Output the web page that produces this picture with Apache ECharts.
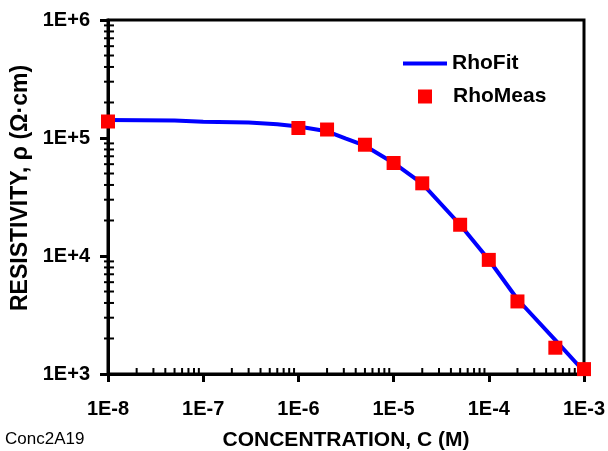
<!DOCTYPE html>
<html>
<head>
<meta charset="utf-8">
<script src="https://cdn.jsdelivr.net/npm/echarts@6/dist/echarts.min.js"></script>
<style>
  html, body { margin: 0; padding: 0; background: #fff; }
  #chart { width: 608px; height: 451px; }
</style>
</head>
<body>
<div id="chart"></div>
<script>
// fitted curve
const fitConc = [1e-8, 5e-8, 1e-7, 3e-7, 6e-7, 1e-6, 2e-6, 3.16e-6, 5e-6, 1e-5, 2e-5, 5e-5, 1e-4, 2e-4, 5e-4, 1e-3];
const fitRho = [1.42e5, 1.41e5, 1.37e5, 1.35e5, 1.31e5, 1.25e5, 1.14e5, 9.9e4, 8.6e4, 6.14e4, 4.1e4, 1.84e4, 9.3e3, 4.3e3, 1.94e3, 1.05e3];

// measured points
const measConc = [1e-8, 1e-6, 2e-6, 5e-6, 1e-5, 2e-5, 5e-5, 1e-4, 2e-4, 5e-4, 1e-3];
const measRho = [1.38e5, 1.216e5, 1.18e5, 8.77e4, 6.14e4, 4.13e4, 1.84e4, 9.27e3, 4.12e3, 1.67e3, 1.1e3];

// decades that get minor ticks, and the minor multipliers
const xDecades = [1e-8, 1e-7, 1e-6, 1e-5, 1e-4];
const yDecades = [1e3, 1e4, 1e5];
const minorSteps = [2, 3, 4, 5, 6, 7, 8, 9];

const font = "'Liberation Sans', Arial, sans-serif";

const xMinor = [];
xDecades.forEach(d => minorSteps.forEach(m => xMinor.push([d * m, 1e3])));
const yMinor = [];
yDecades.forEach(d => minorSteps.forEach(m => yMinor.push([1e-8, d * m])));

const expLabel = v => {
  const e = Math.round(Math.log10(v));
  return '1E' + (e < 0 ? '-' : '+') + Math.abs(e);
};

const chart = echarts.init(document.getElementById('chart'));

const tickStyle = { stroke: '#000', lineWidth: 2 };
const boldText = size => ({ fontFamily: font, fontSize: size, fontWeight: 'bold', color: '#000' });

chart.setOption({
  animation: false,
  textStyle: { fontFamily: font },
  grid: {
    left: 108, right: 24, top: 20, bottom: 77,
    outerBoundsMode: 'none',
    show: true, borderColor: '#000', borderWidth: 3
  },
  legend: [
    {
      data: [{ name: 'RhoFit', icon: 'rect' }],
      left: 398, top: 48,
      itemWidth: 44, itemHeight: 4,
      itemStyle: { color: '#0000FF' },
      textStyle: boldText(21)
    },
    {
      data: ['RhoMeas'],
      left: 413, top: 81,
      itemWidth: 14, itemHeight: 14,
      itemStyle: { color: '#FF0000', opacity: 1 },
      textStyle: Object.assign(boldText(21), { padding: [0, 0, 0, 16] })
    }
  ],
  xAxis: {
    type: 'log', logBase: 10, min: 1e-8, max: 1e-3,
    name: 'CONCENTRATION, C (M)',
    nameLocation: 'middle', nameGap: 56,
    nameTextStyle: boldText(21),
    axisLine: { lineStyle: { color: '#000', width: 3 } },
    axisTick: { inside: false, length: 8, lineStyle: { color: '#000', width: 3 } },
    axisLabel: Object.assign({ formatter: expLabel, margin: 25 }, boldText(20)),
    splitLine: { show: false },
    minorTick: { show: false }
  },
  yAxis: {
    type: 'log', logBase: 10, min: 1e3, max: 1e6,
    axisLine: { lineStyle: { color: '#000', width: 3 } },
    axisTick: { inside: false, length: 8, lineStyle: { color: '#000', width: 3 } },
    axisLabel: Object.assign({ formatter: expLabel, margin: 18 }, boldText(20)),
    splitLine: { show: false },
    minorTick: { show: false }
  },
  graphic: [
    {
      type: 'text', x: 21, y: 188, rotation: Math.PI / 2,
      style: {
        text: 'RESISTIVITY, ρ (Ω·cm)', font: 'bold 23px ' + font, fill: '#000',
        align: 'center', verticalAlign: 'middle'
      }
    },
    {
      type: 'text', left: 5, top: 431,
      style: { text: 'Conc2A19', font: '17px ' + font, fill: '#000' }
    }
  ],
  series: [
    {
      name: 'xticks', type: 'custom', clip: false, silent: true, z: 5,
      data: xMinor,
      renderItem: (params, api) => {
        const p = api.coord([api.value(0), api.value(1)]);
        return { type: 'line', shape: { x1: p[0], y1: p[1] + 1, x2: p[0], y2: p[1] - 6 }, style: tickStyle };
      }
    },
    {
      name: 'yticks', type: 'custom', clip: false, silent: true, z: 5,
      data: yMinor,
      renderItem: (params, api) => {
        const p = api.coord([api.value(0), api.value(1)]);
        return { type: 'line', shape: { x1: p[0] - 4, y1: p[1], x2: p[0] + 6, y2: p[1] }, style: tickStyle };
      }
    },
    {
      name: 'RhoFit', type: 'line',
      data: fitConc.map((c, i) => [c, fitRho[i]]),
      showSymbol: false, symbol: 'none', clip: false, z: 6,
      lineStyle: { color: '#0000FF', width: 4 },
      itemStyle: { color: '#0000FF' }
    },
    {
      name: 'RhoMeas', type: 'scatter',
      data: measConc.map((c, i) => [c, measRho[i]]),
      symbol: 'rect', symbolSize: 14, clip: false, z: 7,
      itemStyle: { color: '#FF0000', opacity: 1 }
    }
  ]
});
</script>
</body>
</html>
